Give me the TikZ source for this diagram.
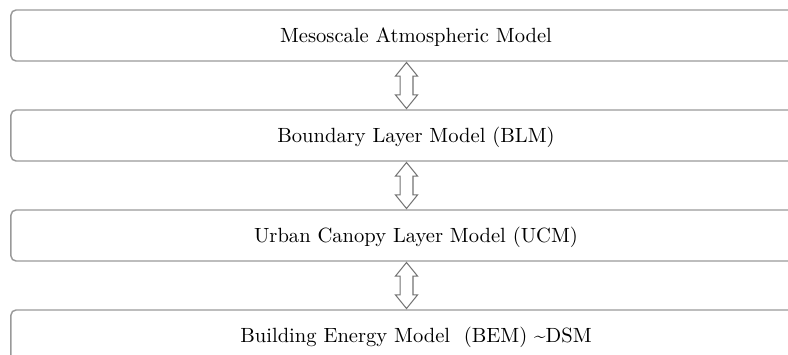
\documentclass[tikz,border=0pt]{standalone}
\usetikzlibrary{shapes.arrows}
\begin{document}
\begin{tikzpicture}[x=0.486pt,y=-0.486pt,
    layerbox/.style={draw=black!40,line width=0.7pt,rounded corners=2.5pt,
        minimum width=393.7pt,minimum height=24.8pt,inner sep=0pt,
        text height=9pt,text depth=2.5pt},
    dblarrow/.style={double arrow,draw=black!55,fill=white,line width=0.5pt,
        rotate=90,minimum height=22.4pt,inner xsep=0pt,inner ysep=2.9pt,
        double arrow head extend=2.2pt,double arrow tip angle=78}]
    \useasboundingbox (0,0) rectangle (788,354);
    % layers
    \node[layerbox] (meso) at (416,35.5) {Mesoscale Atmospheric Model};
    \node[layerbox] (blm) at (416,135.5) {Boundary Layer Model (BLM)};
    \node[layerbox] (ucm) at (416,235.5) {Urban Canopy Layer Model (UCM)};
    \node[layerbox] (bem) at (416,335.5) {Building Energy Model\ \ (BEM) \textasciitilde DSM};
    %
    \node[dblarrow] (mesoblm) at (406.5,85.5) {};
    \node[dblarrow] (blmucm) at (406.5,185.5) {};
    \node[dblarrow] (ucmbem) at (406.5,285.5) {};
\end{tikzpicture}
\end{document}
